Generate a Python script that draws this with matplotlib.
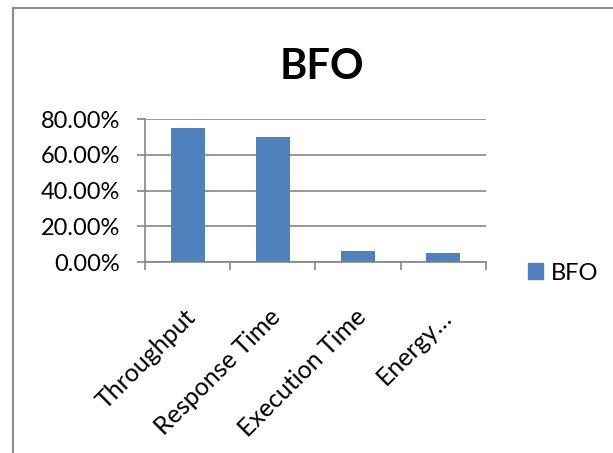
import matplotlib.pyplot as plt
import matplotlib.patches as mpatches
import matplotlib.transforms as mtransforms
from matplotlib.ticker import FuncFormatter, FixedLocator

plt.rcParams['font.family'] = ['Lato', 'DejaVu Sans']

categories = ["Throughput", "Response Time", "Execution Time", "Energy…"]
bfo = [75.1, 69.8, 6.2, 4.9]
yticks = [0, 20, 40, 60, 80]

bar_color = "#4F81BD"
axis_color = "#868686"

fig = plt.figure(figsize=(6.13, 4.53), dpi=100)
ax = fig.add_axes([0.2365, 0.4216, 0.5563, 0.3157])

x = list(range(len(categories)))
ax.bar(x, bfo, width=0.4, color=bar_color, zorder=3)

ax.set_xlim(-0.5, len(categories) - 0.5)
ax.set_ylim(0, 80)
ax.yaxis.set_major_locator(FixedLocator(yticks))
ax.yaxis.set_major_formatter(FuncFormatter(lambda v, p: "%.2f%%" % v))
ax.grid(axis="y", color=axis_color, linewidth=1.2, zorder=0)

ax.set_xticks(x)
ax.set_xticklabels(categories, rotation=45, ha="right", rotation_mode="anchor", fontsize=18)
ax.set_xticks([i - 0.5 for i in range(len(categories) + 1)], minor=True)
ax.tick_params(axis="x", which="major", length=0, pad=31)
ax.tick_params(axis="x", which="minor", length=6, width=1.2, color=axis_color, direction="out")
ax.tick_params(axis="y", length=6, width=1.2, color=axis_color, labelsize=17, pad=12)

# nudge rotated labels a little left
shift = mtransforms.ScaledTranslation(-4 / 100, 0, fig.dpi_scale_trans)
for lab in ax.get_xticklabels():
    lab.set_transform(lab.get_transform() + shift)

for s in ["top", "right"]:
    ax.spines[s].set_visible(False)
for s in ["left", "bottom"]:
    ax.spines[s].set_color(axis_color)
    ax.spines[s].set_linewidth(1.2)

fig.text(322 / 613, 1 - 67 / 453, "BFO", ha="center", va="center", fontsize=30, fontweight="bold")

handle = mpatches.Patch(color=bar_color, label="BFO")
ax.legend(handles=[handle], loc="center left", bbox_to_anchor=(528 / 613, 1 - 273 / 453),
          bbox_transform=fig.transFigure, frameon=False, fontsize=17,
          handlelength=0.65, handleheight=0.65, handletextpad=0.3,
          borderpad=0, borderaxespad=0)

# chart area border (partly cropped)
fig.patches.append(mpatches.Rectangle((13 / 613, -0.1), 1.0, 1 - 8 / 453 + 0.1,
                                      transform=fig.transFigure, fill=False,
                                      edgecolor="#8c8c8c", linewidth=1.5))

fig.savefig("out.png", dpi=100)
